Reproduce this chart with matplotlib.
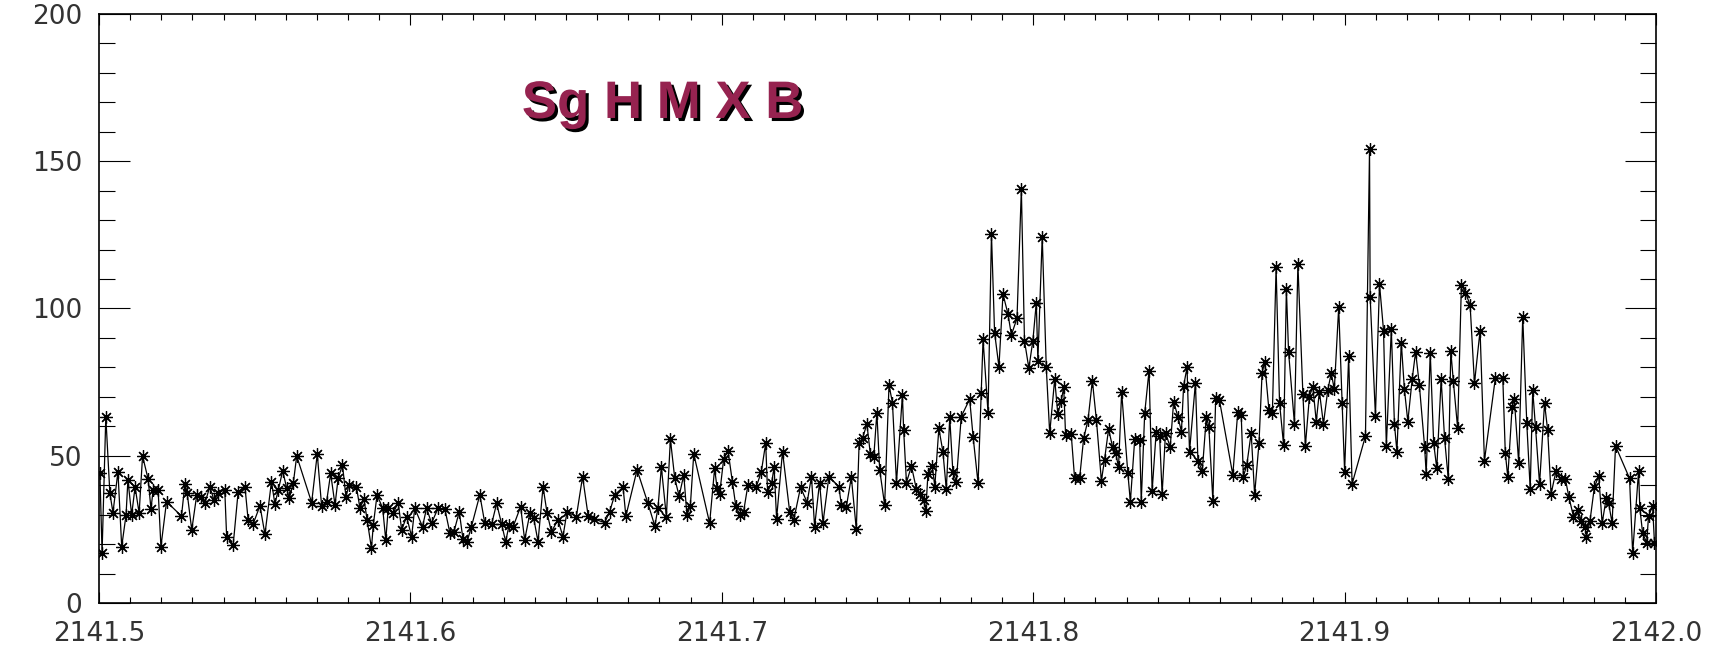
import numpy as np
import matplotlib
matplotlib.use('Agg')
import matplotlib.pyplot as plt
import matplotlib.patheffects as pe
from matplotlib.ticker import MultipleLocator, FormatStrFormatter

# 波長 (2141.5 - 2142.0)
wave = [
    2141.5003, 2141.5010, 2141.5022, 2141.5035, 2141.5045, 2141.5061, 2141.5073, 2141.5087,
    2141.5093, 2141.5105, 2141.5116, 2141.5129, 2141.5140, 2141.5158, 2141.5167, 2141.5174,
    2141.5190, 2141.5199, 2141.5217, 2141.5265, 2141.5276, 2141.5283, 2141.5298, 2141.5314,
    2141.5327, 2141.5340, 2141.5356, 2141.5369, 2141.5383, 2141.5404, 2141.5410, 2141.5431,
    2141.5447, 2141.5469, 2141.5479, 2141.5495, 2141.5517,
    2141.5533, 2141.5554, 2141.5565, 2141.5576, 2141.5590, 2141.5603, 2141.5611, 2141.5624,
    2141.5635, 2141.5683, 2141.5701, 2141.5715, 2141.5731, 2141.5744, 2141.5758, 2141.5768,
    2141.5782, 2141.5793, 2141.5803, 2141.5827, 2141.5838, 2141.5851, 2141.5861, 2141.5875,
    2141.5881, 2141.5893, 2141.5911, 2141.5921, 2141.5929, 2141.5945, 2141.5961, 2141.5972,
    2141.5988, 2141.6004, 2141.6014, 2141.6039, 2141.6052, 2141.6068, 2141.6089,
    2141.6111, 2141.6127, 2141.6140, 2141.6157, 2141.6169, 2141.6182, 2141.6196, 2141.6223,
    2141.6239, 2141.6261, 2141.6277, 2141.6293, 2141.6306, 2141.6317, 2141.6330, 2141.6354,
    2141.6367, 2141.6384, 2141.6396, 2141.6410, 2141.6426, 2141.6439, 2141.6453, 2141.6474,
    2141.6490, 2141.6503, 2141.6533, 2141.6553, 2141.6571, 2141.6589, 2141.6624, 2141.6640,
    2141.6656, 2141.6683, 2141.6692, 2141.6728, 2141.6763, 2141.6785, 2141.6795, 2141.6806,
    2141.6822, 2141.6835, 2141.6849, 2141.6863, 2141.6878, 2141.6888, 2141.6899, 2141.6910,
    2141.6961, 2141.6977, 2141.6985, 2141.6993, 2141.7006, 2141.7020, 2141.7034, 2141.7045,
    2141.7058, 2141.7070, 2141.7084, 2141.7111, 2141.7127, 2141.7141, 2141.7147, 2141.7160,
    2141.7168, 2141.7176,
    2141.7195, 2141.7218, 2141.7231, 2141.7253, 2141.7274, 2141.7288, 2141.7298, 2141.7314,
    2141.7325, 2141.7344, 2141.7376, 2141.7384, 2141.7400, 2141.7416, 2141.7432, 2141.7441,
    2141.7452, 2141.7466, 2141.7477, 2141.7488, 2141.7498, 2141.7507, 2141.7523, 2141.7537,
    2141.7548, 2141.7561, 2141.7580, 2141.7584, 2141.7593, 2141.7609, 2141.7625, 2141.7635,
    2141.7648, 2141.7655, 2141.7662, 2141.7676, 2141.7684, 2141.7697, 2141.7710, 2141.7721,
    2141.7732,
    2141.7742, 2141.7753, 2141.7769, 2141.7796, 2141.7807, 2141.7823, 2141.7833, 2141.7839,
    2141.7855, 2141.7866, 2141.7876, 2141.7890, 2141.7903, 2141.7919, 2141.7930, 2141.7948,
    2141.7962, 2141.7972, 2141.7986, 2141.7999, 2141.8010, 2141.8015, 2141.8029, 2141.8042,
    2141.8053, 2141.8069, 2141.8079, 2141.8090, 2141.8098, 2141.8104, 2141.8122, 2141.8133,
    2141.8149, 2141.8162, 2141.8176, 2141.8190, 2141.8203, 2141.8219, 2141.8229, 2141.8242,
    2141.8255, 2141.8265, 2141.8274, 2141.8284,
    2141.8304, 2141.8312, 2141.8326, 2141.8342, 2141.8347, 2141.8358, 2141.8372, 2141.8382,
    2141.8395, 2141.8406, 2141.8414, 2141.8425, 2141.8440, 2141.8451, 2141.8465, 2141.8476,
    2141.8483, 2141.8494, 2141.8502, 2141.8521, 2141.8529, 2141.8543, 2141.8556, 2141.8564,
    2141.8577, 2141.8586, 2141.8598, 2141.8641, 2141.8657, 2141.8668, 2141.8675, 2141.8686,
    2141.8700, 2141.8711, 2141.8725, 2141.8735, 2141.8743, 2141.8757, 2141.8768, 2141.8780,
    2141.8791, 2141.8804, 2141.8813, 2141.8820,
    2141.8839, 2141.8850, 2141.8866, 2141.8874, 2141.8887, 2141.8898, 2141.8909, 2141.8919,
    2141.8932, 2141.8946, 2141.8957, 2141.8967, 2141.8981, 2141.8992, 2141.9000, 2141.9013,
    2141.9024, 2141.9067, 2141.9080, 2141.9082, 2141.9099, 2141.9112, 2141.9125, 2141.9134,
    2141.9150, 2141.9160, 2141.9168, 2141.9182, 2141.9192, 2141.9203, 2141.9217, 2141.9228,
    2141.9240, 2141.9257, 2141.9262, 2141.9275, 2141.9286, 2141.9296, 2141.9310, 2141.9321,
    2141.9333, 2141.9341, 2141.9349, 2141.9363,
    2141.9375, 2141.9388, 2141.9403, 2141.9417, 2141.9435, 2141.9449, 2141.9484, 2141.9508,
    2141.9516, 2141.9524, 2141.9538, 2141.9545, 2141.9559, 2141.9572, 2141.9585, 2141.9596,
    2141.9604, 2141.9613, 2141.9626, 2141.9642, 2141.9652, 2141.9663, 2141.9679, 2141.9695,
    2141.9709, 2141.9720, 2141.9735, 2141.9749, 2141.9760, 2141.9773, 2141.9776, 2141.9788,
    2141.9802, 2141.9816, 2141.9827, 2141.9840, 2141.9848, 2141.9859, 2141.9870, 2141.9915,
    2141.9925, 2141.9944, 2141.9948, 2141.9957, 2141.9970, 2141.9976, 2141.9989, 2141.9995,
]

# カウント数
counts = [
    44.0, 17.0, 63.3, 37.3, 30.7, 44.6, 19.1, 29.9,
    41.8, 29.9, 39.4, 30.5, 49.9, 42.0, 31.9, 38.4,
    38.4, 19.1, 34.4, 29.5, 40.4, 37.5, 24.8, 36.7,
    36.0, 33.8, 39.5, 35.0, 37.5, 38.4, 22.5, 19.7,
    37.8, 39.3, 28.2, 26.8, 33.0,
    23.3, 41.2, 33.6, 38.4, 44.9, 38.9, 35.5, 40.6,
    49.9, 34.1, 50.6, 32.9, 34.4, 44.0, 33.3, 42.3,
    46.9, 36.1, 40.1, 39.3, 32.2, 35.2, 28.2, 18.6,
    26.5, 36.7, 32.2, 21.4, 32.2, 30.5, 34.1, 24.8,
    29.3, 22.5, 32.2, 25.9, 32.2, 27.1, 32.2,
    31.8, 23.7, 24.2, 31.0, 21.6, 20.8, 25.9, 36.7,
    27.1, 26.8, 33.8, 26.8, 20.8, 26.5, 25.9, 32.7,
    21.4, 30.5, 28.8, 20.8, 39.5, 30.5, 24.2, 28.2,
    22.5, 31.0, 29.3, 42.9, 29.5, 28.5, 27.3, 31.0,
    36.7, 39.3, 29.5, 45.2, 33.8, 26.1, 32.2, 46.1,
    29.3, 55.6, 42.3, 36.3, 43.5, 29.9, 32.9, 50.6,
    27.1, 45.7, 38.9, 37.0, 48.8, 51.7, 41.2, 32.9,
    29.9, 31.0, 40.1, 39.5, 44.6, 54.3, 37.8, 40.6,
    46.2, 28.6,
    51.4, 31.0, 28.2, 39.3, 34.1, 42.9, 25.9, 40.9,
    27.3, 42.9, 39.5, 33.3, 32.7, 42.7, 25.0, 54.2,
    55.9, 60.8, 50.6, 49.5, 64.6, 45.2, 33.3, 74.0,
    68.0, 40.9, 70.6, 58.7, 40.9, 46.5, 38.6, 37.0,
    35.0, 31.3, 43.8, 46.5, 39.5, 59.3, 51.4, 38.6,
    63.0,
    44.6, 41.2, 63.3, 69.2, 56.5, 40.6, 71.2, 89.5,
    64.6, 125.3, 91.8, 80.2, 104.9, 98.1, 91.0, 96.7,
    140.5, 89.1, 79.7, 89.1, 102.0, 82.3, 124.4, 80.0,
    57.6, 76.0, 64.2, 68.7, 73.2, 57.0, 57.4, 42.3,
    42.3, 55.9, 62.1, 75.5, 62.1, 41.5, 48.6, 59.0,
    53.0, 51.0, 46.0, 71.6,
    44.0, 34.4, 55.6, 55.3, 34.4, 64.4, 78.9, 38.1,
    58.2, 56.7, 37.0, 57.8, 52.9, 68.4, 63.1, 58.2,
    73.7, 80.0, 51.4, 74.8, 48.3, 44.9, 63.3, 59.9,
    34.7, 69.5, 68.9, 43.5, 65.0, 63.8, 42.9, 46.9,
    57.8, 36.7, 54.2, 78.0, 81.9, 65.5, 64.4, 114.0,
    68.0, 53.7, 106.7, 85.3,
    60.8, 115.1, 71.0, 53.3, 70.1, 73.5, 61.6, 71.8,
    60.8, 72.3, 78.0, 72.6, 100.4, 68.0, 44.6, 83.9,
    40.4, 56.7, 154.1, 104.0, 63.5, 108.3, 92.5, 53.3,
    92.9, 60.8, 51.4, 88.4, 72.6, 61.6, 76.0, 85.3,
    74.0, 52.9, 43.8, 85.0, 54.2, 45.7, 76.0, 55.9,
    42.0, 85.6, 75.5, 59.3,
    108.0, 105.4, 101.2, 74.6, 92.5, 48.3, 76.3, 76.3,
    51.0, 42.7, 66.7, 69.2, 47.6, 97.2, 61.0, 38.6,
    72.3, 59.7, 40.4, 67.8, 58.7, 37.0, 44.9, 42.0,
    42.0, 36.1, 29.3, 31.6, 27.9, 25.7, 22.3, 27.9,
    39.3, 43.1, 27.1, 35.5, 33.8, 27.1, 53.3, 42.3,
    16.9, 44.9, 32.2, 23.7, 20.5, 29.5, 32.9, 20.5,
]

xticks = [2141.5, 2141.6, 2141.7, 2141.8, 2141.9, 2142.0]
yticks = [0, 50, 100, 150, 200]
label = 'Sg H M X B'

fig = plt.figure(figsize=(17.27, 6.52), dpi=100)
ax = fig.add_axes([0.0573, 0.0752, 0.9016, 0.9034])

# 折れ線 + アスタリスク
ax.plot(wave, counts, color='black', lw=0.9,
        marker=(8, 2, 0), ms=9, mew=0.9, mec='black')

ax.set_xlim(2141.5, 2142.0)
ax.set_ylim(0, 200)
ax.set_xticks(xticks)
ax.set_yticks(yticks)
ax.xaxis.set_minor_locator(MultipleLocator(0.01))
ax.yaxis.set_minor_locator(MultipleLocator(10))
ax.xaxis.set_major_formatter(FormatStrFormatter('%.1f'))
ax.yaxis.set_major_formatter(FormatStrFormatter('%d'))

# 目盛りは内向き、四辺すべて
ax.tick_params(axis='x', which='major', direction='in', length=8, width=0.8,
               top=True, pad=13, labelsize=19, labelcolor='#333333')
ax.tick_params(axis='x', which='minor', direction='in', length=4, width=0.8, top=True)
ax.tick_params(axis='y', which='major', direction='in', length=22, width=0.8,
               right=True, pad=12, labelsize=19, labelcolor='#333333')
ax.tick_params(axis='y', which='minor', direction='in', length=11.5, width=0.8, right=True)
for sp in ax.spines.values():
    sp.set_linewidth(1.2)

# 影付きラベル
ax.text(0.2716, 0.8234, label, transform=ax.transAxes,
        fontsize=38, fontweight='bold', family='Liberation Sans',
        color='#962350', ha='left', va='baseline',
        path_effects=[pe.withSimplePatchShadow(offset=(2.2, -2.2),
                                               shadow_rgbFace='black', alpha=1.0)])

fig.savefig('out.png', dpi=100)
